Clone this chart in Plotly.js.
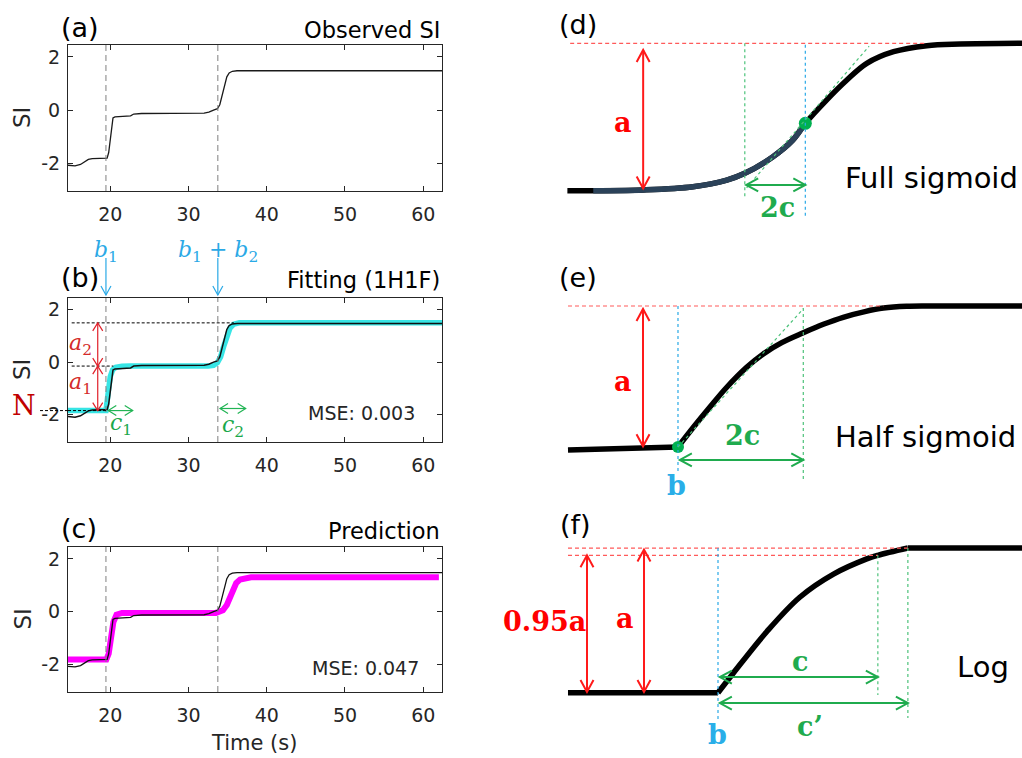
<!DOCTYPE html>
<html>
<head>
<meta charset="utf-8">
<script src="https://cdn.plot.ly/plotly-3.0.1.min.js"></script>
<style>
  html, body { margin: 0; padding: 0; background: #ffffff; }
  #chart { width: 1022px; height: 758px; }
</style>
</head>
<body>
<div id="chart"></div>
<script>
// ---------- measured signal intensity (SI) ----------
const obsTime = [14.6, 15.5, 16.2, 16.7, 17.2, 17.7, 19.0, 19.6, 19.8, 20.0, 20.2, 20.35, 20.6, 22.6, 23.0, 24.0, 32.0, 32.6, 33.2, 33.7, 34.0, 34.3, 34.6, 34.9, 35.2, 35.6, 36.2, 62.4];
const obsSI   = [-2.08, -2.10, -2.05, -1.95, -1.86, -1.83, -1.83, -1.81, -1.60, -1.10, -0.60, -0.30, -0.26, -0.22, -0.15, -0.13, -0.12, -0.08, 0.00, 0.05, 0.20, 0.55, 0.95, 1.25, 1.40, 1.46, 1.48, 1.48];

// fitted model (one half sigmoid + one full sigmoid)
const fitTime = [14.6, 19.45, 19.6, 19.8, 20.0, 20.3, 20.7, 21.5, 22.5, 32.5, 33.2, 33.7, 34.1, 34.5, 34.9, 35.3, 35.8, 36.5, 62.4];
const fitSI   = [-1.85, -1.85, -1.5, -0.95, -0.55, -0.30, -0.20, -0.16, -0.15, -0.15, -0.12, -0.02, 0.20, 0.60, 1.00, 1.30, 1.45, 1.50, 1.50];

// predicted SI
const predTime = [14.6, 19.5, 19.8, 20.1, 20.4, 20.8, 21.5, 33.5, 33.8, 34.4, 34.9, 35.3, 35.7, 36.1, 36.6, 37.3, 38.0, 62.0];
const predSI   = [-1.82, -1.82, -1.60, -1.00, -0.40, -0.12, -0.05, -0.05, -0.03, 0.05, 0.25, 0.55, 0.85, 1.08, 1.22, 1.28, 1.30, 1.30];

const changeTimes = [19.45, 33.75];        // b1, b1 + b2
const fitLevels = [-1.85, -0.15, 1.5];     // N, N + a1, N + a1 + a2
const widthSpans = [[19.75, 22.87], [34.03, 37.31]];  // c1, c2 markers
const mseText = ['MSE: 0.003', 'MSE: 0.047'];
const panelTitles = ['Observed SI', 'Fitting (1H1F)', 'Prediction'];
const timeTicks = [20, 30, 40, 50, 60];
const siTicks = [-2, 0, 2];
const siTickText = ['-2', '0', '2'];

// ---------- model shapes (time in arbitrary units, response scaled so a = 1) ----------
const fullX = [1.6, 7.2, 18.0, 28.8, 36.1, 40.0, 46.1, 50.4, 53.1, 57.7, 62.1, 66.4, 72.2, 79.4, 86.6, 100];
const fullY = [0, 0, 0.005, 0.027, 0.072, 0.118, 0.231, 0.344, 0.457, 0.615, 0.751, 0.864, 0.943, 0.984, 0.995, 1.0];
const fullMid = [53.1, 0.457];
const fullTwoC = [40.0, 53.1];
const fullTangent = [[40.4, 0.02], [66.9, 0.98]];

const halfBaseX = [1.73, 13.0, 25.54];
const halfBaseY = [-0.021, -0.014, 0];
const halfRiseX = [25.54, 29.0, 32.5, 36.0, 40.4, 44.0, 48.0, 52.66, 57.0, 61.3, 66.0, 70.0, 75.0, 80.0, 100];
const halfRiseY = [0, 0.145, 0.285, 0.42, 0.565, 0.66, 0.74, 0.81, 0.87, 0.92, 0.96, 0.985, 0.998, 1.0, 1.0];
const halfB = 25.54;
const halfTwoCEnd = 52.66;

const logBaseX = [1.73, 34.2];
const logBaseY = [0, 0];
const logRiseX = [34.2, 37.5, 44.7, 51.9, 59.2, 66.4, 68.8, 75.3];
const logRiseY = [0, 0.135, 0.42, 0.66, 0.82, 0.925, 0.95, 1.0];
const logTopX = [75.3, 100];
const logTopY = [1.0, 1.0];
const logB = 34.2, logCEnd = 68.8, logCPrimeEnd = 75.3, logFrac = 0.95;

// ---------- page geometry ----------
const W = 1022, H = 758;
const px = v => v / W;
const py = v => 1 - v / H;
const SANS = 'DejaVu Sans';
const SERIF = 'DejaVu Serif';
const INK = '#262626';

const leftDom = [px(68), px(442)];
const rowDom = [[py(191), py(45)], [py(442), py(298)], [py(692), py(547)]];
const tRange = [14.6, 62.4];
const siRange = [-3.05, 2.45];

const RED = '#ff1a1a', RED_D = '#ff5a5a', GREEN = '#1fab4e', GREEN_D = '#4cc27a', BLUE = '#2aa9e6', DARKRED = '#d42a2a';

function leftX(i) {
  return {
    domain: leftDom, range: tRange, anchor: 'y' + (i === 1 ? '' : i),
    showline: true, linecolor: INK, linewidth: 1, mirror: 'ticks',
    ticks: 'inside', ticklen: 5, tickcolor: INK, tickwidth: 1,
    tickmode: 'array', tickvals: timeTicks, ticktext: timeTicks.map(String),
    tickfont: {family: SANS, size: 19, color: INK}, ticklabelstandoff: 6,
    showgrid: false, zeroline: false, fixedrange: true
  };
}
function leftY(i) {
  return {
    domain: rowDom[i - 1], range: siRange, anchor: 'x' + (i === 1 ? '' : i),
    showline: true, linecolor: INK, linewidth: 1, mirror: 'ticks',
    ticks: 'inside', ticklen: 5, tickcolor: INK, tickwidth: 1,
    tickmode: 'array', tickvals: siTicks, ticktext: siTickText,
    tickfont: {family: SANS, size: 19, color: INK}, ticklabelstandoff: 3,
    showgrid: false, zeroline: false, fixedrange: true
  };
}
const rightXRange = [-15.15, 100];
function rightX(i) {
  return {domain: [px(490), 1], range: rightXRange, anchor: 'y' + i, visible: false, fixedrange: true};
}
function rightY(i, dom, rng) {
  return {domain: dom, range: rng, anchor: 'x' + i, visible: false, fixedrange: true};
}

// ---------- traces ----------
const traces = [];
const line = (x, y, xa, ya, color, width, shape) => ({
  type: 'scatter', mode: 'lines', x: x, y: y, xaxis: xa, yaxis: ya,
  line: {color: color, width: width, shape: shape || 'linear'}, hoverinfo: 'skip', showlegend: false
});

// (a) observed
traces.push(line(obsTime, obsSI, 'x', 'y', '#1a1a1a', 1.3));
// (b) fit + observed
traces.push(line(fitTime, fitSI, 'x2', 'y2', 'rgba(20,225,225,0.85)', 5.5));
traces.push(line(obsTime, obsSI, 'x2', 'y2', '#111111', 1.5));
// (c) prediction + observed
traces.push(line(predTime, predSI, 'x3', 'y3', '#ff00ff', 6));
traces.push(line(obsTime, obsSI, 'x3', 'y3', '#111111', 1.3));

// (d) full sigmoid
traces.push(line(fullX, fullY, 'x4', 'y4', '#000000', 5.5, 'spline'));
traces.push(line(fullX.slice(1, 9), fullY.slice(1, 9), 'x4', 'y4', '#2b4259', 5.5, 'spline'));
// (e) half sigmoid
traces.push(line(halfBaseX, halfBaseY, 'x5', 'y5', '#000000', 5.5));
traces.push(line(halfRiseX, halfRiseY, 'x5', 'y5', '#000000', 5.5, 'spline'));
// (f) logarithmic
traces.push(line(logBaseX, logBaseY, 'x6', 'y6', '#000000', 5.5));
traces.push(line(logRiseX, logRiseY, 'x6', 'y6', '#000000', 5.5, 'spline'));
traces.push(line(logTopX, logTopY, 'x6', 'y6', '#000000', 5.5));

// ---------- reference lines ----------
const shapes = [];
function seg(xref, yref, x0, y0, x1, y1, color, dash, width) {
  shapes.push({type: 'line', xref: xref, yref: yref, x0: x0, y0: y0, x1: x1, y1: y1,
    line: {color: color, dash: dash, width: width || 1}, layer: 'above'});
}
// open "V" arrow head drawn in pixel offsets around its tip
function head(xref, yref, x, y, dir, color, width, len, half) {
  const paths = {
    up:    `M${-half},${-len} L0,0 L${half},${-len}`,
    down:  `M${-half},${len} L0,0 L${half},${len}`,
    right: `M${-len},${half} L0,0 L${-len},${-half}`,
    left:  `M${len},${half} L0,0 L${len},${-half}`
  };
  shapes.push({type: 'path', xref: xref, yref: yref, xsizemode: 'pixel', ysizemode: 'pixel',
    xanchor: x, yanchor: y, path: paths[dir], line: {color: color, width: width}, layer: 'above'});
}
// straight arrow (vertical or horizontal) with heads on one or both ends
function arrow(xref, yref, x0, y0, x1, y1, color, width, len, half, both) {
  seg(xref, yref, x0, y0, x1, y1, color, 'solid', width);
  const vertical = x0 === x1;
  const endDir = vertical ? (y1 > y0 ? 'up' : 'down') : (x1 > x0 ? 'right' : 'left');
  const startDir = {up: 'down', down: 'up', right: 'left', left: 'right'}[endDir];
  head(xref, yref, x1, y1, endDir, color, width, len, half);
  if (both) head(xref, yref, x0, y0, startDir, color, width, len, half);
}

// change-point markers in (a)-(c)
[['x', 'y'], ['x2', 'y2'], ['x3', 'y3']].forEach(([xa, ya]) => {
  changeTimes.forEach(t => seg(xa, ya + ' domain', t, 0, t, 1, '#7f7f7f', '6px,4px', 1));
});
// fitted plateau levels in (b)
seg('x2', 'y2', 15.07, fitLevels[2], 35.8, fitLevels[2], '#000000', '3px,2px', 1);
seg('x2', 'y2', 15.07, fitLevels[1], 20.4, fitLevels[1], '#000000', '3px,2px', 1);
seg('x2', 'y2', tRange[0], fitLevels[0], 20.0, fitLevels[0], '#000000', '3px,2px', 1);
seg('paper', 'y2', px(40), fitLevels[0], leftDom[0], fitLevels[0], '#000000', '3px,2px', 1);

// (b) parameter arrows
changeTimes.forEach(t => arrow('x2', 'paper', t, py(258), t, py(295), BLUE, 1.2, 9, 5, false));
arrow('x2', 'y2', 18.40, fitLevels[1], 18.40, fitLevels[2], '#e0202a', 1.2, 8, 5, true);
arrow('x2', 'y2', 18.40, fitLevels[0], 18.40, fitLevels[1], '#e0202a', 1.2, 8, 5, true);
arrow('x2', 'y2', widthSpans[0][0], fitLevels[0], widthSpans[0][1], fitLevels[0], '#22b455', 1.2, 8, 5, true);
arrow('x2', 'y2', widthSpans[1][0], -1.77, widthSpans[1][1], -1.77, '#22b455', 1.2, 8, 5, true);

// (d)
seg('x4', 'y4', 2.2, 1, 79.4, 1, RED_D, '4px,3px', 1.2);
seg('x4', 'y4', fullTwoC[0], 1, fullTwoC[0], -0.043, GREEN_D, '3px,3px', 1.2);
seg('x4', 'y4', fullMid[0], 0.99, fullMid[0], -0.178, BLUE, '3px,3px', 1.2);
seg('x4', 'y4', fullTangent[0][0], fullTangent[0][1], fullTangent[1][0], fullTangent[1][1], GREEN_D, '3px,3px', 1.2);
arrow('x4', 'y4', 18.0, 0.015, 18.0, 0.955, RED, 2, 12, 6.5, true);
arrow('x4', 'y4', fullTwoC[0] + 0.3, 0.039, fullTwoC[1], 0.039, GREEN, 2, 12, 6.5, true);
// (e)
seg('x5', 'y5', 1.73, 1, 70, 1, RED_D, '4px,3px', 1.2);
seg('x5', 'y5', halfB, 1, halfB, -0.177, BLUE, '3px,3px', 1.2);
seg('x5', 'y5', halfTwoCEnd, 0.986, halfTwoCEnd, -0.234, GREEN_D, '3px,3px', 1.2);
seg('x5', 'y5', halfB, 0, halfTwoCEnd, 0.98, GREEN_D, '3px,3px', 1.2);
arrow('x5', 'y5', 17.97, 0.005, 17.97, 0.979, RED, 2, 12, 6.5, true);
arrow('x5', 'y5', halfB + 0.4, -0.092, halfTwoCEnd, -0.092, GREEN, 2, 12, 6.5, true);
// (f)
seg('x6', 'y6', 1.73, 1, logCPrimeEnd, 1, RED_D, '4px,3px', 1.2);
seg('x6', 'y6', 1.73, logFrac, logCEnd, logFrac, RED_D, '4px,3px', 1.2);
seg('x6', 'y6', logB, 1, logB, -0.189, BLUE, '3px,3px', 1.2);
seg('x6', 'y6', logCEnd, logFrac, logCEnd, -0.016, GREEN_D, '3px,3px', 1.2);
seg('x6', 'y6', logCPrimeEnd, 1, logCPrimeEnd, -0.175, GREEN_D, '3px,3px', 1.2);
arrow('x6', 'y6', 5.84, 0.005, 5.84, logFrac, RED, 2, 12, 6.5, true);
arrow('x6', 'y6', 18.18, 0.005, 18.18, 0.99, RED, 2, 12, 6.5, true);
arrow('x6', 'y6', logB + 0.4, 0.108, logCEnd, 0.108, GREEN, 2, 12, 6.5, true);
arrow('x6', 'y6', logB + 0.4, -0.071, logCPrimeEnd, -0.071, GREEN, 2, 12, 6.5, true);

// green points
traces.push({type: 'scatter', mode: 'markers', x: [fullMid[0]], y: [fullMid[1]], xaxis: 'x4', yaxis: 'y4',
  marker: {color: '#00b050', size: 13}, hoverinfo: 'skip', showlegend: false});
traces.push({type: 'scatter', mode: 'markers', x: [halfB], y: [0], xaxis: 'x5', yaxis: 'y5',
  marker: {color: '#00b050', size: 12}, hoverinfo: 'skip', showlegend: false});

// ---------- text ----------
const ann = [];
function text(xref, yref, x, y, t, font, xanchor, extra) {
  ann.push(Object.assign({xref: xref, yref: yref, x: x, y: y, text: t, showarrow: false,
    xanchor: xanchor || 'center', yanchor: 'middle', font: font}, extra || {}));
}

// panel letters and titles (left)
const lettersLeft = [['(a)', 27], ['(b)', 277], ['(c)', 528]];
lettersLeft.forEach(([t, y]) => text('paper', 'paper', px(59), py(y), t, {family: SANS, size: 27, color: '#000'}, 'left'));
const titleRows = [30, 280, 531];
panelTitles.forEach((t, i) => text('paper', 'paper', px(442), py(titleRows[i]), t, {family: SANS, size: 22.5, color: '#000'}, 'right'));
// y titles
[118, 370, 619.5].forEach(y => text('paper', 'paper', px(22), py(y), 'SI', {family: SANS, size: 23, color: INK}, 'center', {textangle: -90}));
text('paper', 'paper', px(253.5), py(742.5), 'Time (s)', {family: SANS, size: 21, color: INK});

// MSE values
text('x2', 'y2', 52.14, -1.94, mseText[0], {family: SANS, size: 19, color: INK});
text('x3', 'y3', 52.56, -2.15, mseText[1], {family: SANS, size: 19, color: INK});

// (b) parameter names
text('x2', 'paper', changeTimes[0], py(251.7), '<i>b</i><sub>1</sub>', {family: SERIF, size: 22, color: BLUE});
text('x2', 'paper', changeTimes[1], py(251.7), '<i>b</i><sub>1</sub> + <i>b</i><sub>2</sub>', {family: SERIF, size: 22, color: BLUE});
text('x2', 'y2', 16.26, 0.69, '<i>a</i><sub>2</sub>', {family: SERIF, size: 22, color: DARKRED});
text('x2', 'y2', 16.26, -0.80, '<i>a</i><sub>1</sub>', {family: SERIF, size: 22, color: DARKRED});
text('x2', 'y2', 21.31, -2.40, '<i>c</i><sub>1</sub>', {family: SERIF, size: 22, color: '#1aa84a'});
text('x2', 'y2', 35.69, -2.44, '<i>c</i><sub>2</sub>', {family: SERIF, size: 22, color: '#1aa84a'});
text('paper', 'paper', px(24), py(405), 'N', {family: SERIF, size: 27, color: '#c00000'});

// right panels
const letterFont = {family: SANS, size: 27, color: '#000'};
text('paper', 'paper', px(557), py(24), '(d)', letterFont, 'left');
text('paper', 'paper', px(557), py(277), '(e)', letterFont, 'left');
text('paper', 'paper', px(558), py(524.5), '(f)', letterFont, 'left');
const nameFont = {family: SANS, size: 29, color: '#000'};
const redLab = {family: SERIF, size: 27, color: '#ff0000', weight: 'bold'};
const greenLab = {family: SERIF, size: 27, color: '#1fab4e', weight: 'bold'};
const blueLab = {family: SERIF, size: 27, color: '#29aee8', weight: 'bold'};

text('x4', 'y4', 13.6, 0.466, 'a', redLab);
text('x4', 'y4', 47.0, -0.117, '2c', greenLab);
text('x4', 'y4', 61.3, 0.086, 'Full sigmoid', nameFont, 'left');

text('x5', 'y5', 13.6, 0.461, 'a', redLab);
text('x5', 'y5', 39.4, 0.085, '2c', greenLab);
text('x5', 'y5', 25.3, -0.27, 'b', blueLab);
text('x5', 'y5', 59.1, 0.071, 'Half sigmoid', nameFont, 'left');

text('x6', 'y6', -3.25, 0.491, '0.95a', redLab);
text('x6', 'y6', 14.07, 0.516, 'a', redLab);
text('x6', 'y6', 51.9, 0.214, 'c', greenLab);
text('x6', 'y6', 54.1, -0.235, 'c\u2019', greenLab);
text('x6', 'y6', 34.0, -0.292, 'b', blueLab);
text('x6', 'y6', 85.5, 0.18, 'Log', nameFont, 'left');

const layout = {
  width: W, height: H,
  margin: {l: 0, r: 0, t: 0, b: 0},
  paper_bgcolor: '#ffffff', plot_bgcolor: 'rgba(0,0,0,0)',
  showlegend: false,
  xaxis: leftX(1), yaxis: leftY(1),
  xaxis2: leftX(2), yaxis2: leftY(2),
  xaxis3: leftX(3), yaxis3: leftY(3),
  xaxis4: rightX(4), yaxis4: rightY(4, [py(240), 1], [-0.3345, 1.2938]),
  xaxis5: rightX(5), yaxis5: rightY(5, [py(500), py(250)], [-0.376, 1.397]),
  xaxis6: rightX(6), yaxis6: rightY(6, [0, py(500)], [-0.451, 1.332]),
  shapes: shapes,
  annotations: ann
};

Plotly.newPlot('chart', traces, layout, {displayModeBar: false, staticPlot: true});
</script>
</body>
</html>
